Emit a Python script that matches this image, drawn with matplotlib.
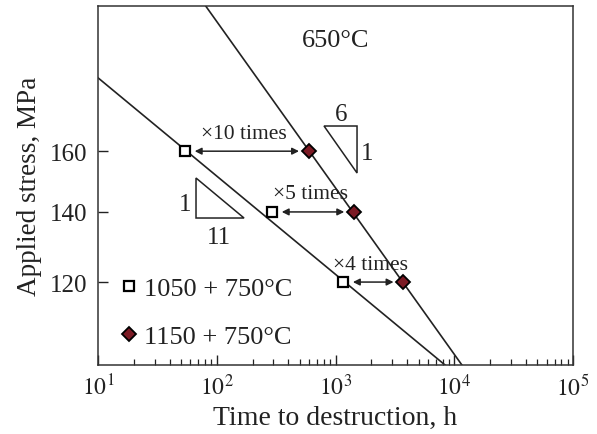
import numpy as np
import matplotlib
matplotlib.use('Agg')
import matplotlib.pyplot as plt
from matplotlib.ticker import FixedLocator, NullLocator, FixedFormatter, LogLocator

plt.rcParams['font.family'] = 'Liberation Serif'
plt.rcParams['mathtext.fontset'] = 'stix'

# Data (time in h, stress in MPa)
stress = [160, 140, 120]
time_1050 = [54, 292, 1160]
time_1150 = [595, 1430, 3720]
ratio_labels = ['\u00d710 times', '\u00d75 times', '\u00d74 times']

# Fitted lines, end points
line_1050_t = [10, 8360]
line_1050_s = [188, 100]
line_1150_t = [81, 11600]
line_1150_s = [220, 100]

label_1050 = '1050 + 750\u00b0C'
label_1150 = '1150 + 750\u00b0C'
diamond_color = '#7b1a24'
ink = '#222222'

fig = plt.figure(figsize=(5.97, 4.35), dpi=100)
ax = fig.add_axes([0.1642, 0.1586, 0.7956, 0.8246])

ax.plot(line_1050_t, line_1050_s, color=ink, lw=1.2, zorder=2)
ax.plot(line_1150_t, line_1150_s, color=ink, lw=1.2, zorder=2)

ax.plot(time_1050, stress, 's', ms=7.5, mfc='white', mec='black', mew=1.6,
        ls='none', zorder=4, label=label_1050)
ax.plot(time_1150, stress, 'D', ms=6.8, mfc=diamond_color, mec='black', mew=1.3,
        ls='none', zorder=4, label=label_1150)

# double arrows between the two states
for t1, t2, s, lab in zip(time_1050, time_1150, stress, ratio_labels):
    ax.annotate('', xy=(t2, s), xytext=(t1, s),
                arrowprops=dict(arrowstyle='<|-|>', color=ink, lw=1.1,
                                mutation_scale=10, shrinkA=7, shrinkB=7), zorder=3)
    tm = np.sqrt(t1 * t2)
    ax.annotate(lab, xy=(tm, s), xytext=(-2, 13), textcoords='offset points',
                ha='center', va='center', fontsize=15.5, color=ink)

ax.set_xscale('log')
ax.set_yscale('log')
ax.set_xlim(10, 1e5)
ax.set_ylim(100, 220)

ax.xaxis.set_major_locator(FixedLocator([1e1, 1e2, 1e3, 1e4, 1e5]))
ax.xaxis.set_major_formatter(FixedFormatter([r'$10^{1}$', r'$10^{2}$', r'$10^{3}$',
                                             r'$10^{4}$', r'$10^{5}$']))
ax.xaxis.set_minor_locator(LogLocator(base=10, subs=np.arange(2, 10), numticks=20))
ax.yaxis.set_major_locator(FixedLocator(stress))
ax.yaxis.set_major_formatter(FixedFormatter([str(v) for v in stress]))
ax.yaxis.set_minor_locator(NullLocator())

ax.tick_params(which='major', direction='in', length=7, width=1, colors=ink,
               labelcolor=ink)
ax.tick_params(axis='x', which='major', pad=6, labelsize=17)
ax.tick_params(axis='y', which='major', pad=8, labelsize=18)
ax.tick_params(which='minor', direction='in', length=4, width=0.9, colors=ink)
for sp in ax.spines.values():
    sp.set_color('#333333')
    sp.set_linewidth(1.1)

ax.set_xlabel('Time to destruction, h', fontsize=20, color=ink, labelpad=4)
ax.set_ylabel('Applied stress, MPa', fontsize=19.5, color=ink, labelpad=5)

ax.text(0.50, 0.905, '650\u00b0C', transform=ax.transAxes, fontsize=19,
        ha='center', va='center', color=ink)

# slope triangles
tri1 = plt.Polygon([(0.4758, 0.6663), (0.5453, 0.6663), (0.5453, 0.5353)],
                   closed=True, fill=False, ec=ink, lw=1.1, transform=ax.transAxes)
ax.add_patch(tri1)
ax.text(0.512, 0.700, '6', transform=ax.transAxes, fontsize=18, ha='center',
        va='center', color=ink)
ax.text(0.566, 0.592, '1', transform=ax.transAxes, fontsize=18, ha='center',
        va='center', color=ink)
tri2 = plt.Polygon([(0.2063, 0.5213), (0.2063, 0.4098), (0.3074, 0.4098)],
                   closed=True, fill=False, ec=ink, lw=1.1, transform=ax.transAxes)
ax.add_patch(tri2)
ax.text(0.183, 0.450, '1', transform=ax.transAxes, fontsize=18, ha='center',
        va='center', color=ink)
ax.text(0.255, 0.358, '11', transform=ax.transAxes, fontsize=18, ha='center',
        va='center', color=ink)

ax.legend(loc='lower left', bbox_to_anchor=(0.0, -0.02), frameon=False,
          fontsize=19, handlelength=0.55, handletextpad=0.28, labelspacing=0.95,
          borderpad=0.4, labelcolor=ink)

fig.savefig('out.png', dpi=100)
